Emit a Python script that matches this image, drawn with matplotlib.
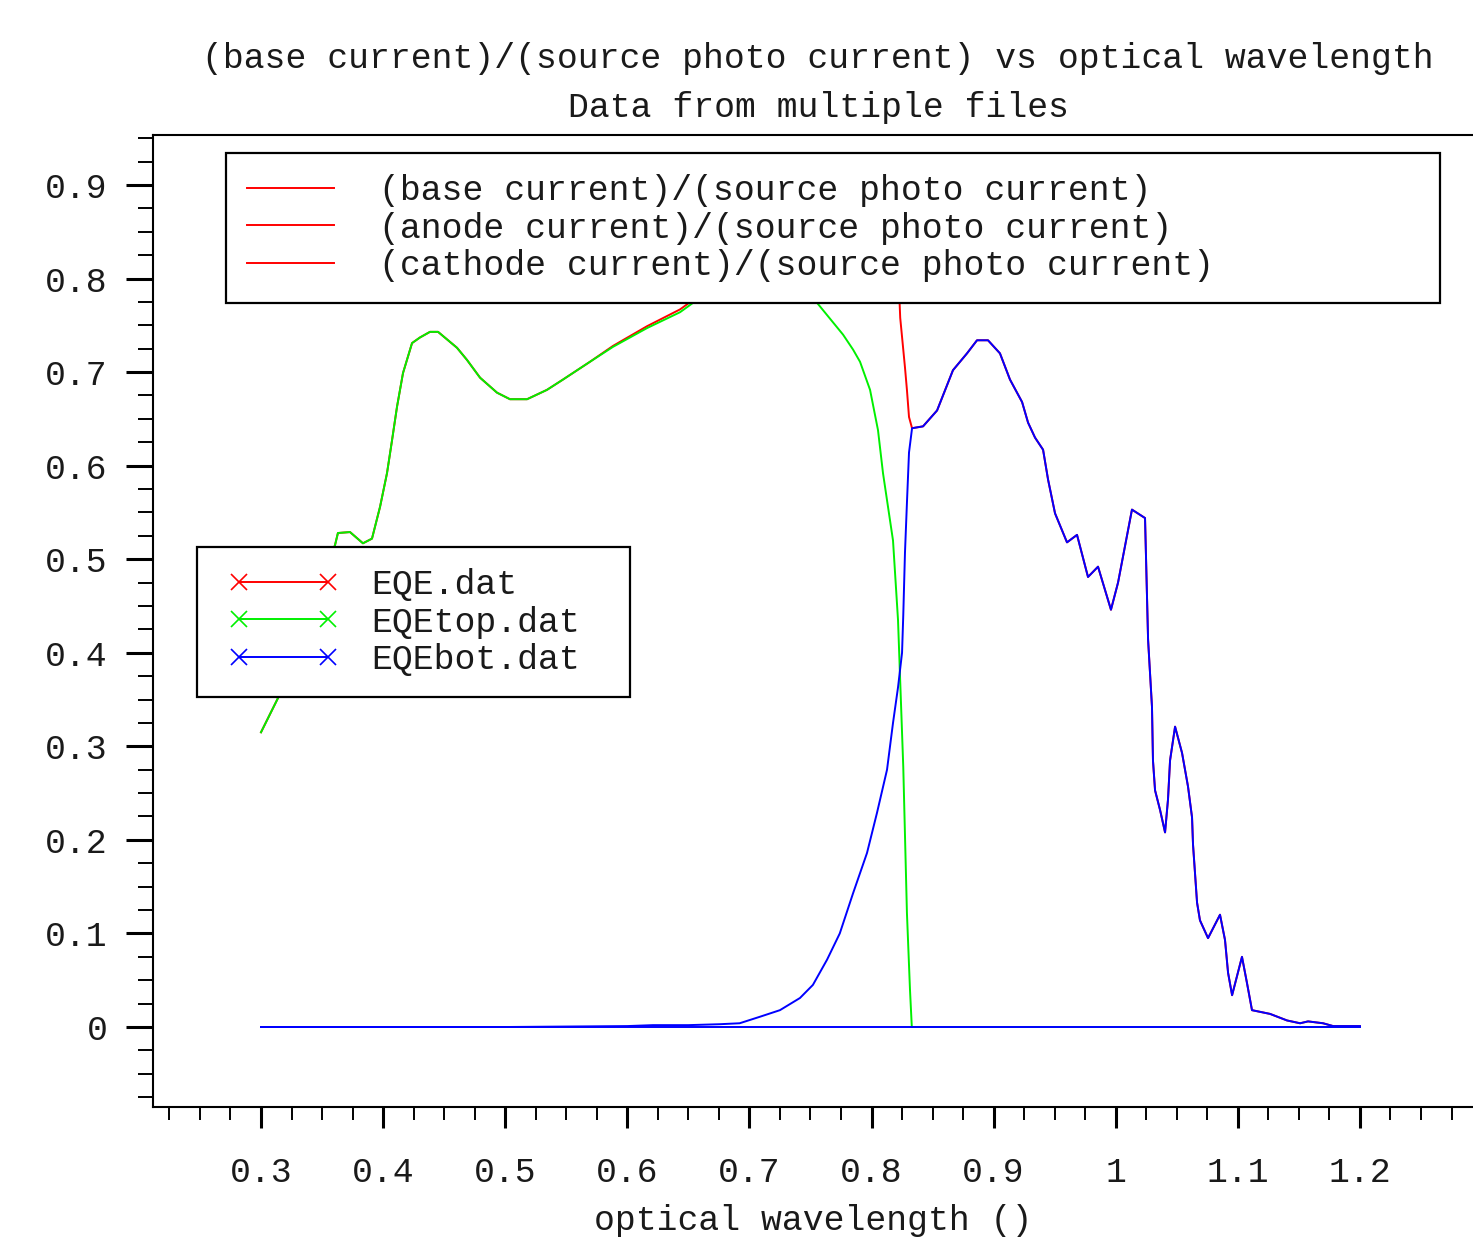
import matplotlib
matplotlib.use('Agg')
import matplotlib.pyplot as plt
from matplotlib.lines import Line2D
from matplotlib.legend_handler import HandlerLine2D
from matplotlib.ticker import MultipleLocator, FormatStrFormatter

plt.rcParams['font.family'] = ['Liberation Mono', 'DejaVu Sans Mono']

# EQEtop.dat (green)
wl_top = [0.300, 0.3156, 0.330, 0.345, 0.3606, 0.363, 0.3729, 0.3835, 0.3909, 0.3975,
          0.4032, 0.4073, 0.4114, 0.4163, 0.4237, 0.4302, 0.4384, 0.4450, 0.4605, 0.4687,
          0.4794, 0.4933, 0.5039, 0.5179, 0.5342, 0.5473, 0.5694, 0.5883, 0.6161, 0.6432,
          0.6570, 0.6700, 0.6900, 0.7100, 0.7250, 0.7400, 0.7554, 0.7767, 0.7849, 0.7906,
          0.7988, 0.8053, 0.8094, 0.8176, 0.8217, 0.8260, 0.8290, 0.8315, 0.8330, 0.9000,
          1.0000, 1.1000, 1.2000]
eqe_top = [0.315, 0.356, 0.405, 0.460, 0.515, 0.528, 0.529, 0.517, 0.522, 0.556,
           0.592, 0.627, 0.663, 0.699, 0.731, 0.737, 0.743, 0.743, 0.726, 0.713,
           0.694, 0.678, 0.671, 0.671, 0.681, 0.692, 0.711, 0.727, 0.747, 0.764,
           0.777, 0.790, 0.803, 0.809, 0.806, 0.795, 0.774, 0.740, 0.724, 0.711,
           0.681, 0.638, 0.592, 0.520, 0.435, 0.278, 0.122, 0.040, 0.000, 0.000,
           0.000, 0.000, 0.000]

# EQEbot.dat (blue)
wl_bot = [0.300, 0.400, 0.500, 0.600, 0.621, 0.650, 0.676, 0.692, 0.7087, 0.725,
          0.7414, 0.752, 0.7636, 0.774, 0.7849, 0.7963, 0.8045, 0.8127, 0.8176, 0.8217,
          0.8250, 0.8260, 0.8274, 0.8290, 0.8307, 0.8332, 0.8422, 0.8537, 0.8667, 0.8782,
          0.8864, 0.8954, 0.9052, 0.9134, 0.9233, 0.9282, 0.9339, 0.9405, 0.9446, 0.9503,
          0.9601, 0.9683, 0.9773, 0.9855, 0.9961, 1.0019, 1.0133, 1.0240, 1.0265, 1.0297,
          1.0305, 1.0322, 1.0363, 1.0404, 1.0428, 1.0445, 1.0486, 1.0543, 1.0592, 1.0625,
          1.0633, 1.0666, 1.0690, 1.0756, 1.0854, 1.0895, 1.0920, 1.0953, 1.1034, 1.1075,
          1.1116, 1.1264, 1.1403, 1.1510, 1.1575, 1.1698, 1.1780, 1.2000]
eqe_bot = [0.000, 0.000, 0.000, 0.001, 0.002, 0.002, 0.003, 0.004, 0.011, 0.018,
           0.031, 0.045, 0.072, 0.100, 0.143, 0.186, 0.229, 0.275, 0.325, 0.363,
           0.400, 0.440, 0.507, 0.560, 0.614, 0.640, 0.642, 0.659, 0.702, 0.720,
           0.734, 0.734, 0.720, 0.692, 0.668, 0.646, 0.630, 0.617, 0.585, 0.549,
           0.518, 0.526, 0.481, 0.492, 0.446, 0.475, 0.553, 0.544, 0.414, 0.342,
           0.285, 0.253, 0.232, 0.208, 0.243, 0.285, 0.321, 0.293, 0.257, 0.224,
           0.195, 0.133, 0.114, 0.095, 0.120, 0.093, 0.058, 0.034, 0.075, 0.047,
           0.018, 0.014, 0.007, 0.004, 0.006, 0.004, 0.001, 0.001]

# EQE.dat (red)
wl_all = [0.300, 0.3156, 0.330, 0.345, 0.3606, 0.363, 0.3729, 0.3835, 0.3909, 0.3975,
          0.4032, 0.4073, 0.4114, 0.4163, 0.4237, 0.4302, 0.4384, 0.4450, 0.4605, 0.4687,
          0.4794, 0.4933, 0.5039, 0.5179, 0.5342, 0.5473, 0.5694, 0.5883, 0.6161, 0.6432,
          0.6570, 0.6900, 0.7250, 0.7554, 0.7849, 0.8045, 0.8176, 0.8230, 0.8235, 0.8274,
          0.8290, 0.8307, 0.8332, 0.8422, 0.8537, 0.8667, 0.8782,
          0.8864, 0.8954, 0.9052, 0.9134, 0.9233, 0.9282, 0.9339, 0.9405, 0.9446, 0.9503,
          0.9601, 0.9683, 0.9773, 0.9855, 0.9961, 1.0019, 1.0133, 1.0240, 1.0265, 1.0297,
          1.0305, 1.0322, 1.0363, 1.0404, 1.0428, 1.0445, 1.0486, 1.0543, 1.0592, 1.0625,
          1.0633, 1.0666, 1.0690, 1.0756, 1.0854, 1.0895, 1.0920, 1.0953, 1.1034, 1.1075,
          1.1116, 1.1264, 1.1403, 1.1510, 1.1575, 1.1698, 1.1780, 1.2000]
eqe_all = [0.315, 0.356, 0.405, 0.460, 0.515, 0.528, 0.529, 0.517, 0.522, 0.556,
           0.592, 0.627, 0.663, 0.699, 0.731, 0.737, 0.743, 0.743, 0.726, 0.713,
           0.694, 0.678, 0.671, 0.671, 0.681, 0.692, 0.711, 0.728, 0.749, 0.767,
           0.780, 0.807, 0.824, 0.819, 0.867, 0.870, 0.845, 0.774, 0.758, 0.705,
           0.681, 0.652, 0.640, 0.642, 0.659, 0.702, 0.720,
           0.734, 0.734, 0.720, 0.692, 0.668, 0.646, 0.630, 0.617, 0.585, 0.549,
           0.518, 0.526, 0.481, 0.492, 0.446, 0.475, 0.553, 0.544, 0.414, 0.342,
           0.285, 0.253, 0.232, 0.208, 0.243, 0.285, 0.321, 0.293, 0.257, 0.224,
           0.195, 0.133, 0.114, 0.095, 0.120, 0.093, 0.058, 0.034, 0.075, 0.047,
           0.018, 0.014, 0.007, 0.004, 0.006, 0.004, 0.001, 0.001]

title_lines = ['(base current)/(source photo current) vs optical wavelength',
               'Data from multiple files']
quantity_labels = ['(base current)/(source photo current)',
                   '(anode current)/(source photo current)',
                   '(cathode current)/(source photo current)']
file_labels = ['EQE.dat', 'EQEtop.dat', 'EQEbot.dat']
colors = ['#ff0000', '#00f000', '#0000ff']
fs = 25
txt = '#1a1a1a'

fig = plt.figure(figsize=(14.73, 12.41), dpi=100)
W, H = 1473.0, 1241.0
ax = fig.add_axes([153 / W, 1 - 1107 / H, 1 - 153 / W, (1107 - 135) / H])

ax.plot(wl_all, eqe_all, color=colors[0], lw=1.4)
ax.plot(wl_top, eqe_top, color=colors[1], lw=1.4)
ax.plot(wl_bot, eqe_bot, color=colors[2], lw=1.4)
ax.plot([wl_bot[0], wl_bot[-1]], [0, 0], color=colors[2], lw=1.4)

ax.set_xlim(0.21155, 1.2926)
ax.set_ylim(-0.0855, 0.9534)
ax.xaxis.set_major_locator(MultipleLocator(0.1))
ax.xaxis.set_minor_locator(MultipleLocator(0.025))
ax.yaxis.set_major_locator(MultipleLocator(0.1))
ax.yaxis.set_minor_locator(MultipleLocator(0.025))
ax.xaxis.set_major_formatter(FormatStrFormatter('%g'))
ax.yaxis.set_major_formatter(FormatStrFormatter('%g'))

ax.spines['right'].set_visible(False)
for s in ['left', 'bottom', 'top']:
    ax.spines[s].set_linewidth(1.5)
ax.tick_params(axis='x', which='major', direction='out', length=15, width=2.2,
               pad=20, labelsize=fs, labelcolor=txt)
ax.tick_params(axis='x', which='minor', direction='out', length=9.5, width=1.4)
ax.tick_params(axis='y', which='major', direction='out', length=19.5, width=2.2,
               pad=13, labelsize=fs, labelcolor=txt)
ax.tick_params(axis='y', which='minor', direction='out', length=11, width=1.4)

ax.set_title('\n'.join(title_lines), fontsize=fs, color=txt, linespacing=1.62, pad=13,
             x=(818 - 153) / (W - 153))
ax.set_xlabel('optical wavelength ()', fontsize=fs, color=txt, labelpad=11)

# legend of plotted quantities
h1 = [Line2D([], [], color=colors[0], lw=1.4) for _ in quantity_labels]
leg1 = ax.legend(h1, quantity_labels, loc='upper left', mode='expand',
                 bbox_to_anchor=(226 / W, 1 - 302 / H, (1440 - 226) / W, (302 - 153) / H),
                 bbox_transform=fig.transFigure, borderaxespad=0, fontsize=fs,
                 handlelength=2.5, handletextpad=1.32, borderpad=0.6, labelspacing=0.135,
                 fancybox=False, framealpha=1, edgecolor='black', labelcolor=txt)
leg1.get_frame().set_linewidth(1.6)
ax.add_artist(leg1)

# legend of data files
h2 = [Line2D([], [], color=c, lw=1.4, marker='x', markersize=12, markeredgewidth=1.2)
      for c in colors]
leg2 = ax.legend(h2, file_labels, loc='upper left', mode='expand', numpoints=2,
                 handler_map={Line2D: HandlerLine2D(marker_pad=0.62)},
                 bbox_to_anchor=(197 / W, 1 - 694 / H, (630 - 197) / W, (694 - 547) / H),
                 bbox_transform=fig.transFigure, borderaxespad=0, fontsize=fs,
                 handlelength=3.8, handletextpad=0.62, borderpad=0.6, labelspacing=0.135,
                 fancybox=False, framealpha=1, edgecolor='black', labelcolor=txt)
leg2.get_frame().set_linewidth(1.6)

fig.savefig('out.png', dpi=100)
